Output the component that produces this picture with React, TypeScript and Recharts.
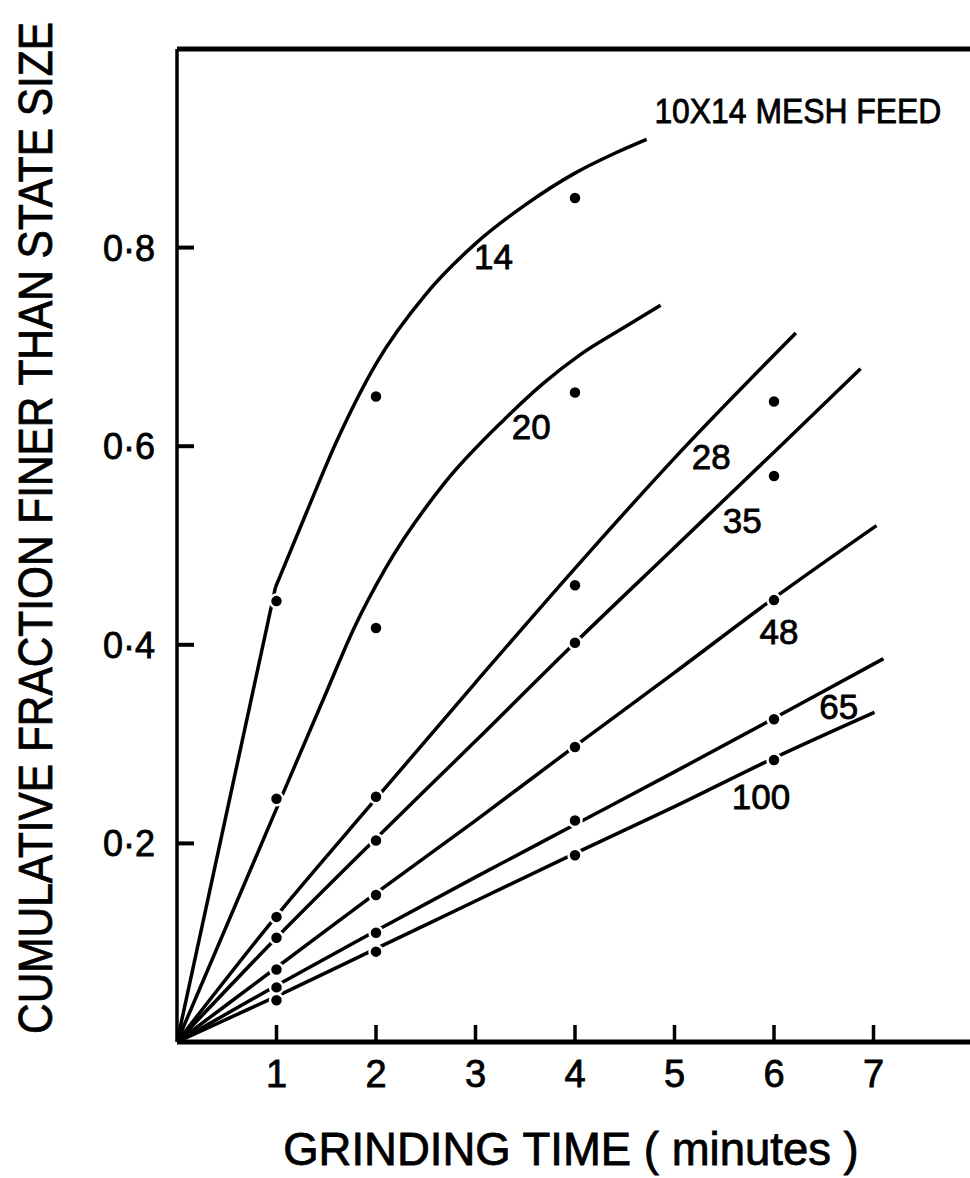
import { ComposedChart, Line, Scatter, XAxis, YAxis, ReferenceLine } from 'recharts'

// fitted curves (grinding time, fraction finer)
// the 14 mesh line is drawn as a straight lower part and a bent upper part
const curve14Low = [{ x: 0, y: 0 }, { x: 0.99, y: 0.458 }]
const curve14High = [
  { x: 0.99, y: 0.458 }, { x: 1.3, y: 0.533 }, { x: 1.6, y: 0.604 }, { x: 2, y: 0.683 },
  { x: 2.5, y: 0.753 }, { x: 3, y: 0.804 }, { x: 3.5, y: 0.843 }, { x: 4, y: 0.875 },
  { x: 4.4, y: 0.895 }, { x: 4.72, y: 0.909 },
]
const curve20 = [
  { x: 0, y: 0 }, { x: 1, y: 0.235 }, { x: 1.5, y: 0.352 }, { x: 1.78, y: 0.417 },
  { x: 2.09, y: 0.476 }, { x: 2.69, y: 0.563 }, { x: 3.28, y: 0.626 }, { x: 3.69, y: 0.664 },
  { x: 4.05, y: 0.692 }, { x: 4.5, y: 0.72 }, { x: 4.86, y: 0.742 },
]
const curve28 = [
  { x: 0, y: 0 }, { x: 1, y: 0.127 }, { x: 2, y: 0.245 }, { x: 3, y: 0.362 },
  { x: 4, y: 0.477 }, { x: 5, y: 0.588 }, { x: 6.22, y: 0.714 },
]
const curve35 = [
  { x: 0, y: 0 }, { x: 1, y: 0.105 }, { x: 2, y: 0.205 }, { x: 3, y: 0.303 },
  { x: 4, y: 0.402 }, { x: 5, y: 0.498 }, { x: 6, y: 0.594 }, { x: 6.87, y: 0.678 },
]
const curve48 = [
  { x: 0, y: 0 }, { x: 1, y: 0.075 }, { x: 2, y: 0.15 }, { x: 3, y: 0.223 },
  { x: 4, y: 0.298 }, { x: 5, y: 0.372 }, { x: 6, y: 0.447 }, { x: 7.03, y: 0.52 },
]
const curve65 = [
  { x: 0, y: 0 }, { x: 1, y: 0.057 }, { x: 2, y: 0.112 }, { x: 3, y: 0.166 },
  { x: 4, y: 0.219 }, { x: 5, y: 0.272 }, { x: 6, y: 0.326 }, { x: 7.1, y: 0.386 },
]
const curve100 = [
  { x: 0, y: 0 }, { x: 1, y: 0.046 }, { x: 2, y: 0.094 }, { x: 3, y: 0.142 },
  { x: 4, y: 0.19 }, { x: 5, y: 0.237 }, { x: 6, y: 0.286 }, { x: 7.01, y: 0.332 },
]

// measured points
const pts14 = [{ x: 1, y: 0.444 }, { x: 2, y: 0.65 }, { x: 4, y: 0.85 }]
const pts20 = [{ x: 1, y: 0.245 }, { x: 2, y: 0.417 }, { x: 4, y: 0.654 }]
const pts28 = [{ x: 1, y: 0.126 }, { x: 2, y: 0.247 }, { x: 4, y: 0.46 }, { x: 6, y: 0.645 }]
const pts35 = [{ x: 1, y: 0.105 }, { x: 2, y: 0.203 }, { x: 4, y: 0.402 }, { x: 6, y: 0.57 }]
const pts48 = [{ x: 1, y: 0.073 }, { x: 2, y: 0.148 }, { x: 4, y: 0.297 }, { x: 6, y: 0.445 }]
const pts65 = [{ x: 1, y: 0.055 }, { x: 2, y: 0.11 }, { x: 4, y: 0.223 }, { x: 6, y: 0.325 }]
const pts100 = [{ x: 1, y: 0.042 }, { x: 2, y: 0.091 }, { x: 4, y: 0.188 }, { x: 6, y: 0.284 }]

// mesh size labels next to each curve
const meshLabels = [
  { text: '14', x: 3.18, y: 0.791 },
  { text: '20', x: 3.56, y: 0.62 },
  { text: '28', x: 5.37, y: 0.59 },
  { text: '35', x: 5.68, y: 0.525 },
  { text: '48', x: 6.05, y: 0.413 },
  { text: '65', x: 6.65, y: 0.338 },
  { text: '100', x: 5.87, y: 0.247 },
]
const feedLabel = [{ text: '10X14 MESH FEED', x: 6.24, y: 0.938 }]

const xTicks = [1, 2, 3, 4, 5, 6, 7]
const yTicks = [0.2, 0.4, 0.6, 0.8]

const curves = [curve14Low, curve14High, curve20, curve28, curve35, curve48, curve65, curve100]
const points = [pts14, pts20, pts28, pts35, pts48, pts65, pts100]

const FONT = '"Liberation Sans", Arial, sans-serif'

const XTick = (props: any) => {
  const { x, y, payload } = props
  return (
    <g>
      <line x1={x} y1={y} x2={x} y2={y - 17} stroke="#000" strokeWidth={3.5} />
      <text x={x} y={y + 45} textAnchor="middle" fontSize={38} fontFamily={FONT} fill="#000"
        stroke="#000" strokeWidth={0.8}>
        {payload.value}
      </text>
    </g>
  )
}

const YTick = (props: any) => {
  const { x, y, payload } = props
  return (
    <g>
      <line x1={x} y1={y} x2={x + 17} y2={y} stroke="#000" strokeWidth={4} />
      <text x={x - 48} y={y + 13} textAnchor="middle" fontSize={36} fontFamily={FONT} fill="#000"
        stroke="#000" strokeWidth={0.8}>
        {String(payload.value).replace('.', '·')}
      </text>
    </g>
  )
}

const dotShape = (props: any) => (
  <circle cx={props.cx} cy={props.cy} r={6.5} fill="#000" stroke="#fff" strokeWidth={2.5} />
)

const meshShape = (props: any) => (
  <text x={props.cx} y={props.cy} textAnchor="middle" dominantBaseline="central"
    fontSize={35} fontFamily={FONT} fill="#000" stroke="#000" strokeWidth={0.8}>
    {props.payload.text}
  </text>
)

const feedShape = (props: any) => (
  <text x={props.cx} y={props.cy} textAnchor="middle" dominantBaseline="central"
    fontSize={35} fontFamily={FONT} fill="#000" stroke="#000" strokeWidth={0.8}
    textLength={287} lengthAdjust="spacingAndGlyphs">
    {props.payload.text}
  </text>
)

export default function App() {
  return (
    <div style={{ position: 'absolute', left: 0, top: 0, width: 970, height: 1178, overflow: 'hidden', background: '#fff' }}>
      <ComposedChart width={974} height={1178} margin={{ top: 49, right: 1, left: 0, bottom: 0 }}>
        <XAxis
          type="number"
          dataKey="x"
          domain={[0, 8]}
          ticks={xTicks}
          allowDataOverflow
          height={136}
          tickSize={0}
          tickMargin={0}
          tick={XTick}
          axisLine={{ stroke: '#000', strokeWidth: 5 }}
          tickLine={false}
        />
        <YAxis
          type="number"
          dataKey="y"
          domain={[0, 1]}
          ticks={yTicks}
          allowDataOverflow
          width={177}
          tickSize={0}
          tickMargin={0}
          tick={YTick}
          axisLine={{ stroke: '#000', strokeWidth: 3.5 }}
          tickLine={false}
        />
        <ReferenceLine y={1} stroke="#000" strokeWidth={5} />
        {curves.map((c, i) => (
          <Line
            key={'c' + i}
            data={c}
            dataKey="y"
            type="monotone"
            stroke="#000"
            strokeWidth={3.5}
            dot={false}
            activeDot={false}
            isAnimationActive={false}
          />
        ))}
        {points.map((p, i) => (
          <Scatter key={'p' + i} data={p} dataKey="y" shape={dotShape} isAnimationActive={false} />
        ))}
        <Scatter data={meshLabels} dataKey="y" shape={meshShape} isAnimationActive={false} />
        <Scatter data={feedLabel} dataKey="y" shape={feedShape} isAnimationActive={false} />
      </ComposedChart>
      <svg width={970} height={1178} style={{ position: 'absolute', left: 0, top: 0, pointerEvents: 'none' }}>
        <text transform="translate(52 528) rotate(-90) scale(1 1.12)" x={0} y={0} textAnchor="middle"
          fontSize={42.4} fontFamily={FONT} fill="#000" stroke="#000" strokeWidth={0.7}>
          CUMULATIVE FRACTION FINER THAN STATE SIZE
        </text>
        <text x={571} y={1165} textAnchor="middle" fontSize={45.5} fontFamily={FONT} fill="#000"
          stroke="#000" strokeWidth={0.8}>
          GRINDING TIME ( minutes )
        </text>
      </svg>
    </div>
  )
}
